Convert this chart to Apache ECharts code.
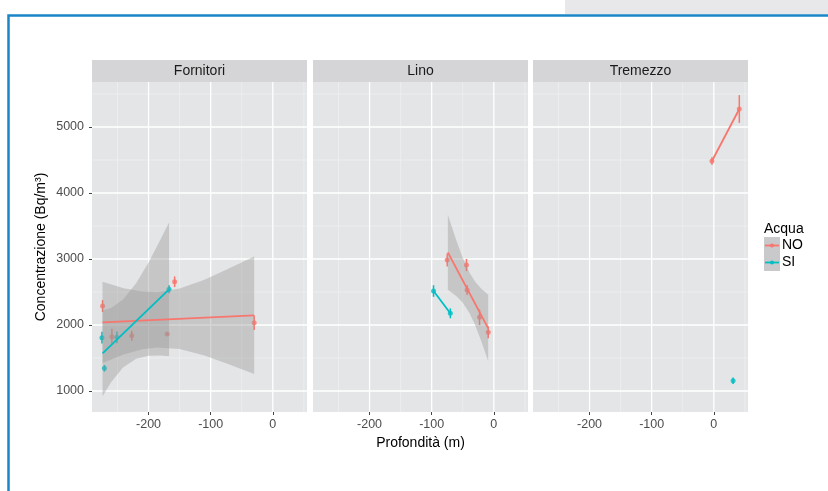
<!DOCTYPE html>
<html>
<head>
<meta charset="utf-8">
<title>Concentrazione vs Profondità</title>
<script src="https://cdn.jsdelivr.net/npm/echarts@6.0.0/dist/echarts.min.js"></script>
<style>
  html, body { margin: 0; padding: 0; background: #fff; }
  #chart { width: 828px; height: 491px; }
</style>
</head>
<body>
<div id="chart"></div>
<script>
// facet names and axis ticks
const panels = ['Fornitori', 'Lino', 'Tremezzo']
const xTicks = [-200, -100, 0]
const xMinor = [-250, -150, -50, 50]
const yTicks = [1000, 2000, 3000, 4000, 5000]
const yMinor = [1500, 2500, 3500, 4500, 5500]

// points: [profondità, concentrazione, errore]
const fornitoriNO = [[-274, 2288, 90], [-259, 1823, 120], [-227, 1838, 75], [-170, 1864, 15], [-158, 2656, 80], [-30, 2035, 110]]
const fornitoriSI = [[-275, 1808, 90], [-271, 1344, 50], [-251, 1813, 90], [-167, 2541, 60]]
const linoNO = [[-75, 2985, 100], [-44, 2909, 93], [-43, 2530, 75], [-23, 2117, 118], [-9, 1889, 88]]
const linoSI = [[-97, 2515, 88], [-70, 2177, 75]]
const tremezzoNO = [[-3, 4485, 58], [41, 5273, 210]]
const tremezzoSI = [[31, 1156, 50]]

// fitted lines (lm)
const fornitoriNOFit = [[-274, 2041], [-30, 2147]]
const fornitoriSIFit = [[-274, 1571], [-167, 2541]]
const linoNOFit = [[-74, 3101], [-9, 1950]]
const linoSIFit = [[-97, 2515], [-70, 2177]]
const tremezzoNOFit = [[-3, 4485], [41, 5273]]

// confidence bands: [x, low, high]
const fornitoriNOBand = [[-274, 1426, 2656], [-240, 1555, 2557], [-210, 1632, 2506], [-186, 1660, 2498], [-150, 1636, 2554], [-110, 1539, 2685], [-70, 1401, 2859], [-30, 1257, 3037]]
const fornitoriSIBand = [[-274, 921, 2221], [-260, 1137, 2259], [-241, 1355, 2385], [-220, 1489, 2633], [-200, 1536, 2948], [-180, 1539, 3309], [-167, 1528, 3554]]
const linoNOBand = [[-74, 2533, 3669], [-60, 2434, 3274], [-50, 2336, 3020], [-39, 2178, 2790], [-30, 1996, 2654], [-20, 1750, 2548], [-9, 1450, 2460]]

const RED = '#F8766D'
const TEAL = '#00BFC4'
const FONT = 'Liberation Sans, Arial, sans-serif'
const xMin = -291, xMax = 55
const yMin = 682, yMax = 5682
const gridLefts = [92, 313, 533]
const gridTop = 82, gridW = 215, gridH = 330

const panelData = [
  { no: fornitoriNO, si: fornitoriSI, fits: [[fornitoriNOFit, RED], [fornitoriSIFit, TEAL]], bands: [fornitoriNOBand, fornitoriSIBand] },
  { no: linoNO, si: linoSI, fits: [[linoNOFit, RED], [linoSIFit, TEAL]], bands: [linoNOBand] },
  { no: tremezzoNO, si: tremezzoSI, fits: [[tremezzoNOFit, RED]], bands: [] }
]

function gridLines(i, values, vertical, color, width) {
  return {
    type: 'custom', xAxisIndex: i, yAxisIndex: i, silent: true, z: 1,
    data: values.map(v => vertical ? [v, yMin] : [xMin, v]),
    renderItem(params, api) {
      const cs = params.coordSys
      const p = api.coord([api.value(0), api.value(1)])
      const shape = vertical
        ? { x1: p[0], y1: cs.y, x2: p[0], y2: cs.y + cs.height }
        : { x1: cs.x, y1: p[1], x2: cs.x + cs.width, y2: p[1] }
      return { type: 'line', shape, style: { stroke: color, lineWidth: width } }
    }
  }
}

function errorBars(i, data, color) {
  return {
    type: 'custom', xAxisIndex: i, yAxisIndex: i, silent: true, z: 2,
    data: data,
    renderItem(params, api) {
      const x = api.value(0), y = api.value(1), e = api.value(2)
      const lo = api.coord([x, y - e])
      const hi = api.coord([x, y + e])
      return { type: 'line', shape: { x1: lo[0], y1: lo[1], x2: hi[0], y2: hi[1] }, style: { stroke: color, lineWidth: 1.5 } }
    }
  }
}

function band(i, data) {
  return {
    type: 'custom', xAxisIndex: i, yAxisIndex: i, silent: true, z: 4,
    data: data,
    renderItem(params, api) {
      if (params.dataIndex !== 0) return null
      const top = data.map(d => api.coord([d[0], d[2]]))
      const bottom = data.map(d => api.coord([d[0], d[1]])).reverse()
      return { type: 'polygon', shape: { points: top.concat(bottom) }, style: { fill: 'rgba(153,153,153,0.4)' } }
    }
  }
}

const grids = [], xAxes = [], yAxes = [], series = [], graphics = []

// page decoration: grey box and blue frame
graphics.push({ type: 'rect', shape: { x: 565, y: 0, width: 263, height: 14 }, style: { fill: '#E8E8EA' }, z: 0 })
graphics.push({ type: 'rect', shape: { x: 8.5, y: 15.5, width: 900, height: 600 }, style: { fill: 'none', stroke: '#1A86C8', lineWidth: 2.5 }, z: 1 })

panels.forEach((name, i) => {
  grids.push({ left: gridLefts[i], top: gridTop, width: gridW, height: gridH, show: true, backgroundColor: '#E4E5E7', borderWidth: 0 })
  xAxes.push({
    gridIndex: i, type: 'value', min: xMin, max: xMax,
    axisLine: { show: false, onZero: false }, splitLine: { show: false },
    axisTick: { show: true, length: 3, customValues: xTicks, lineStyle: { color: '#444' } },
    axisLabel: { customValues: xTicks, margin: 6, fontSize: 12.5, color: '#4D4D4D', fontFamily: FONT, formatter: v => String(v) },
    name: i === 1 ? 'Profondità (m)' : '',
    nameLocation: 'middle', nameGap: 24,
    nameTextStyle: { fontSize: 14, color: '#000', fontFamily: FONT }
  })
  yAxes.push({
    gridIndex: i, type: 'value', min: yMin, max: yMax,
    axisLine: { show: false, onZero: false }, splitLine: { show: false },
    axisTick: { show: i === 0, length: 3, customValues: yTicks, lineStyle: { color: '#444' } },
    axisLabel: { show: i === 0, customValues: yTicks, margin: 8, fontSize: 12.5, color: '#4D4D4D', fontFamily: FONT, formatter: v => String(v) },
    name: i === 0 ? 'Concentrazione (Bq/m³)' : '',
    nameLocation: 'middle', nameGap: 44,
    nameTextStyle: { fontSize: 14, color: '#000', fontFamily: FONT }
  })

  // strip
  graphics.push({ type: 'rect', shape: { x: gridLefts[i], y: 60, width: gridW, height: 22 }, style: { fill: '#D5D5D7' } })
  graphics.push({ type: 'text', x: gridLefts[i] + gridW / 2, y: 71, style: { text: name, fill: '#1A1A1A', font: '14px ' + FONT, textAlign: 'center', textVerticalAlign: 'middle' } })

  series.push(gridLines(i, xMinor, true, '#EFF0F2', 0.7))
  series.push(gridLines(i, yMinor, false, '#EFF0F2', 0.7))
  series.push(gridLines(i, xTicks, true, '#FFFFFF', 1.3))
  series.push(gridLines(i, yTicks, false, '#FFFFFF', 1.3))

  const p = panelData[i]
  series.push(errorBars(i, p.no, RED))
  series.push(errorBars(i, p.si, TEAL))
  series.push({ type: 'scatter', xAxisIndex: i, yAxisIndex: i, z: 3, symbolSize: 5, itemStyle: { color: RED }, data: p.no.map(d => [d[0], d[1]]) })
  series.push({ type: 'scatter', xAxisIndex: i, yAxisIndex: i, z: 3, symbolSize: 5, itemStyle: { color: TEAL }, data: p.si.map(d => [d[0], d[1]]) })
  p.bands.forEach(b => series.push(band(i, b)))
  p.fits.forEach(f => series.push({
    type: 'line', xAxisIndex: i, yAxisIndex: i, z: 5, showSymbol: false, silent: true,
    lineStyle: { color: f[1], width: 1.8 }, data: f[0]
  }))
})

// legend (ggplot style)
graphics.push({ type: 'text', x: 764, y: 229, style: { text: 'Acqua', fill: '#000', font: '14px ' + FONT, textVerticalAlign: 'middle' } })
;[['NO', RED, 237], ['SI', TEAL, 254]].forEach(k => {
  graphics.push({ type: 'rect', shape: { x: 764, y: k[2], width: 16, height: 17 }, style: { fill: '#C9C9CB' } })
  graphics.push({ type: 'line', shape: { x1: 765, y1: k[2] + 8.5, x2: 779, y2: k[2] + 8.5 }, style: { stroke: k[1], lineWidth: 1.8 } })
  graphics.push({ type: 'circle', shape: { cx: 772, cy: k[2] + 8.5, r: 2 }, style: { fill: k[1] } })
  graphics.push({ type: 'text', x: 782, y: k[2] + 8.5, style: { text: k[0], fill: '#000', font: '14px ' + FONT, textVerticalAlign: 'middle' } })
})

const chart = echarts.init(document.getElementById('chart'))
chart.setOption({
  animation: false,
  backgroundColor: '#fff',
  grid: grids,
  xAxis: xAxes,
  yAxis: yAxes,
  series: series,
  graphic: graphics
})
</script>
</body>
</html>
